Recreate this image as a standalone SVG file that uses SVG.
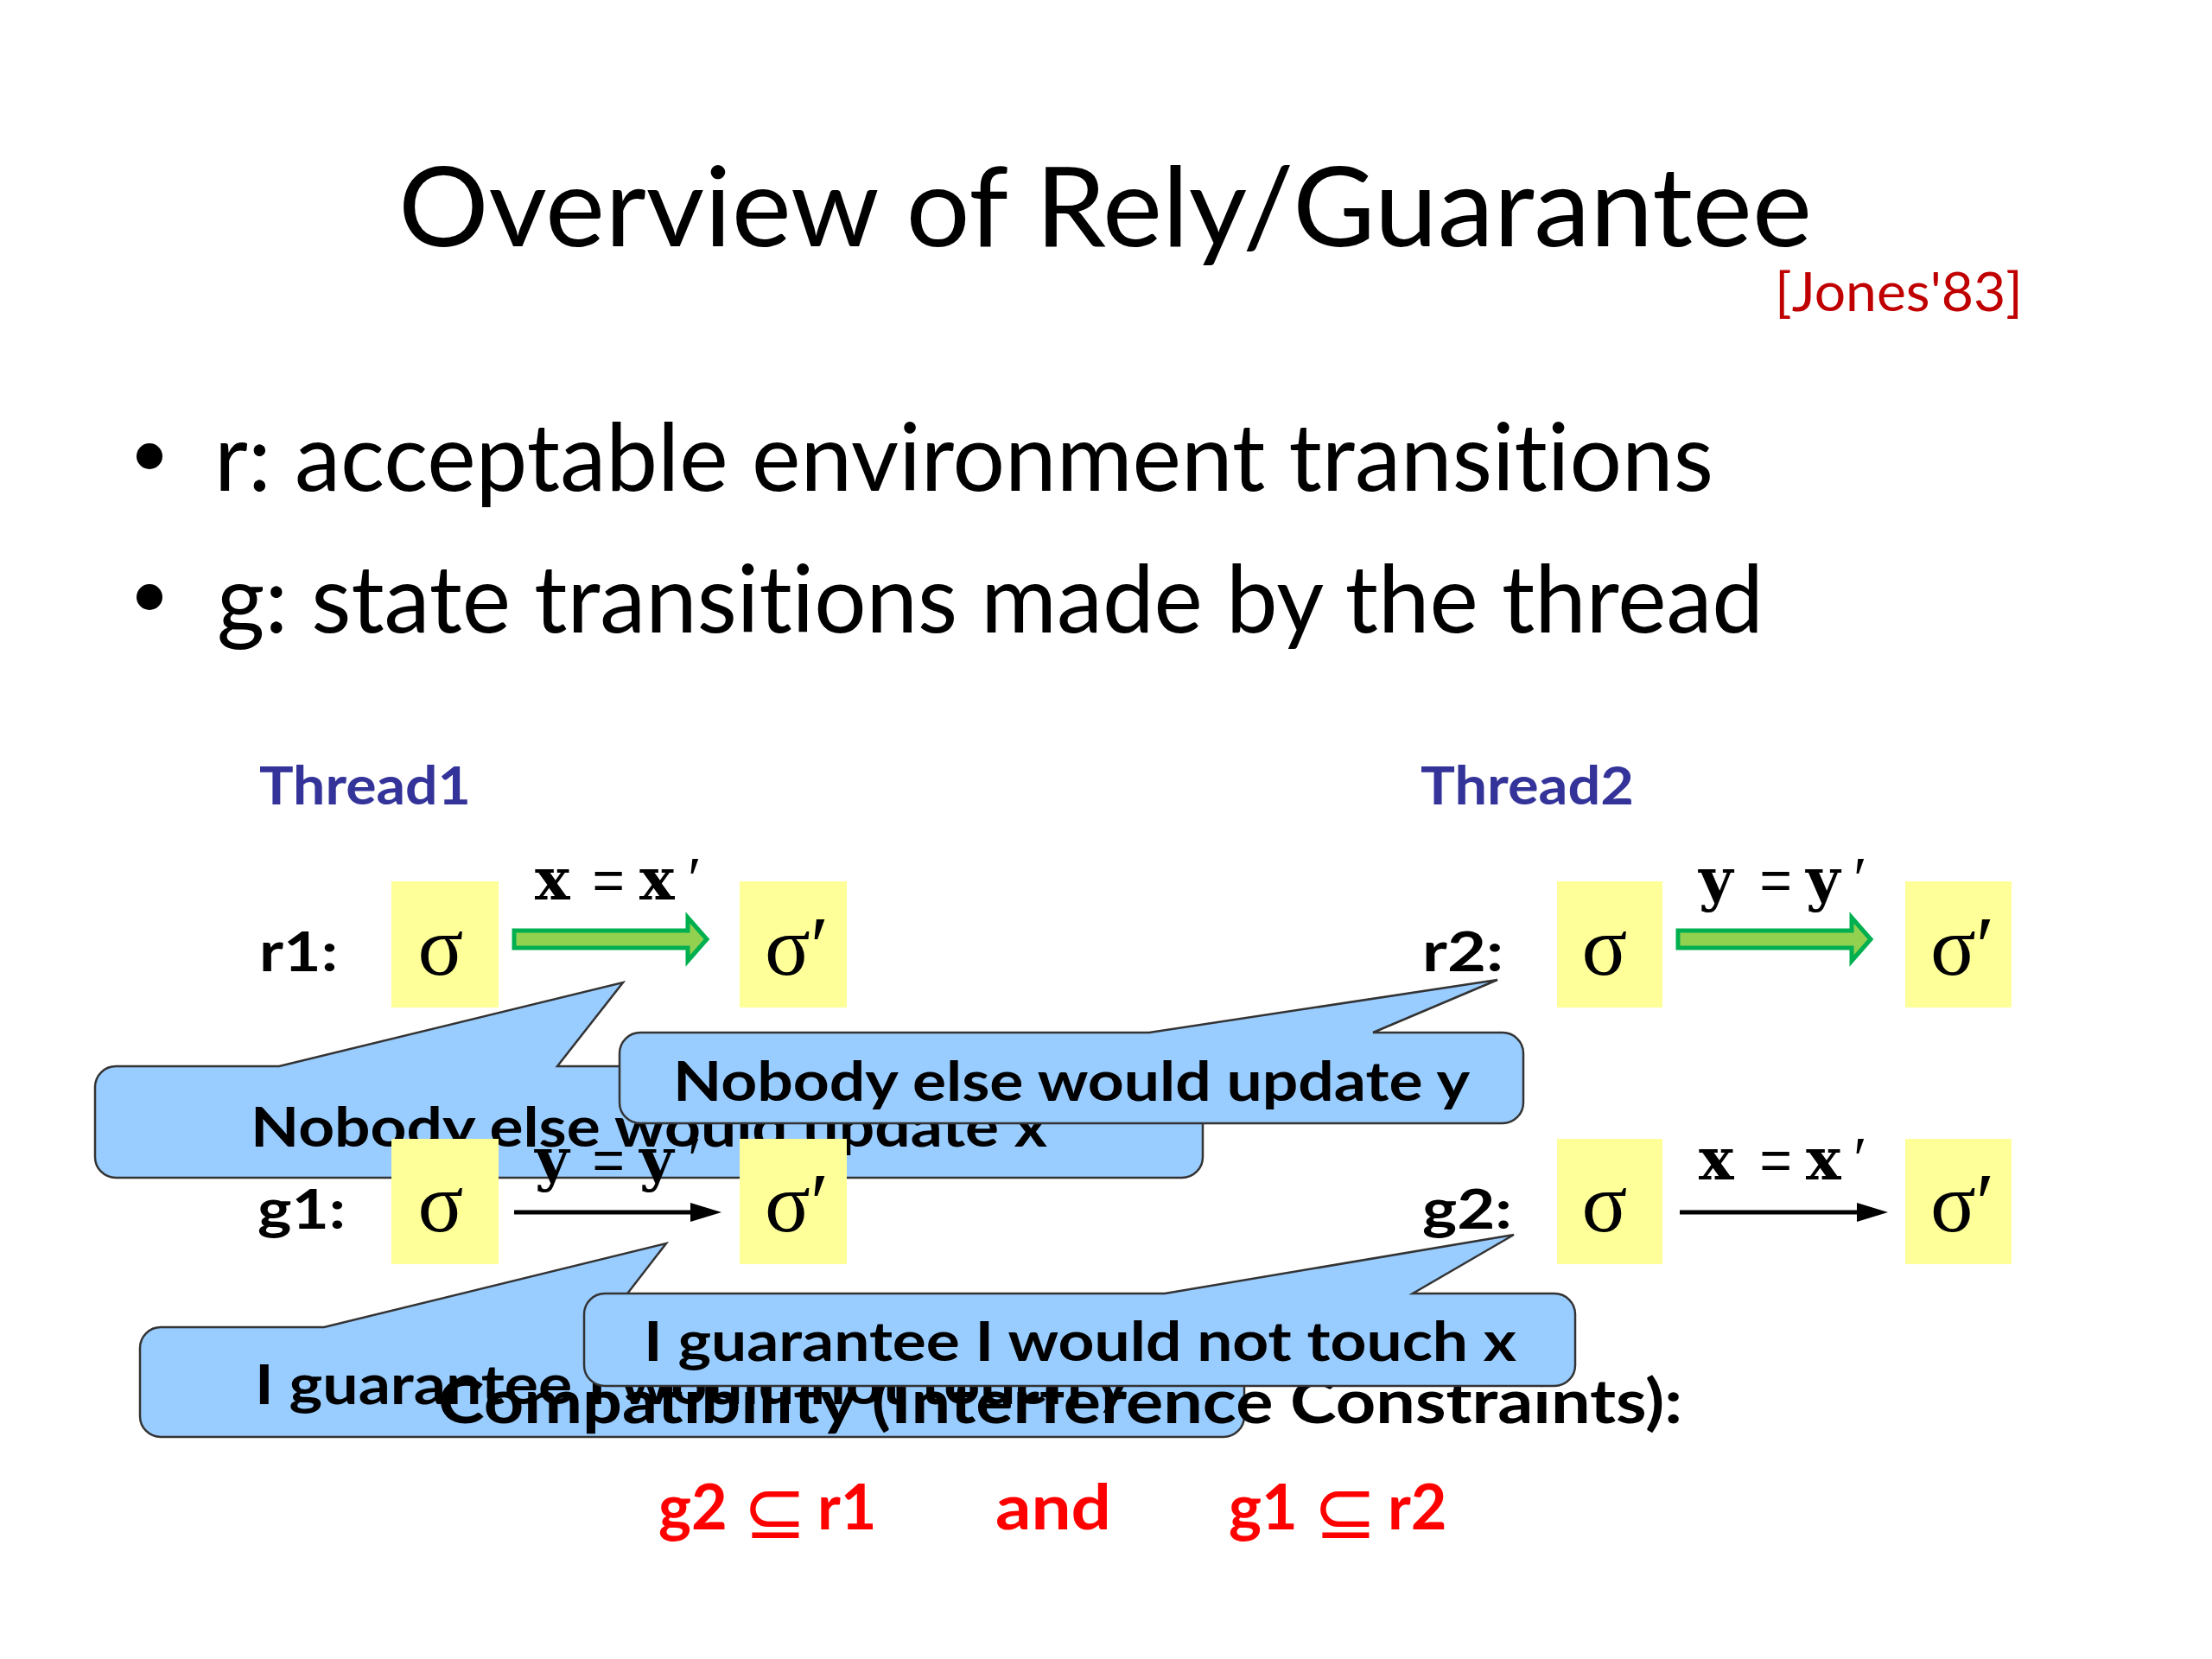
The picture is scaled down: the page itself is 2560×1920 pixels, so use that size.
<svg xmlns="http://www.w3.org/2000/svg" width="2560" height="1920" viewBox="0 0 2560 1920">
<defs>
<style>
text{font-variant-ligatures:none}
.sans{font-family:Lato,"Open Sans","Liberation Sans",sans-serif;font-variant-ligatures:none}
.title{font-size:128px;fill:#000}
.bullet{font-size:108px;fill:#000}
.cite{font-size:62px;fill:#C00000}
.thread{font-size:61px;font-weight:bold;fill:#333399}
.lbl{font-size:64px;font-weight:bold;fill:#000}
.box{fill:#FFFF99}
.sig{font-family:"Liberation Serif","DejaVu Serif",serif;font-size:98px;fill:#000}
.mono{font-family:"DejaVu Serif","Liberation Serif",serif;font-size:68px;font-weight:bold;fill:#000}
.eq{font-family:"Liberation Mono","DejaVu Sans Mono",monospace;font-size:64px;font-weight:normal;fill:#000}
.prime{font-family:"Liberation Serif","DejaVu Serif",serif;font-size:72px;fill:#000}
.callout{fill:#99CCFF;stroke:#333333;stroke-width:2.5;stroke-linejoin:miter}
.ctext{font-size:64px;font-weight:bold;fill:#000;text-anchor:middle}
.compat{font-size:71px;font-weight:bold;fill:#000}
.red{font-size:72px;font-weight:bold;fill:#FF0000}
.sub{font-family:"DejaVu Sans",sans-serif;font-size:88px;font-weight:normal;fill:#FF0000}
.green{fill:#92D050;stroke:#00B050;stroke-width:5;stroke-linejoin:miter}
.line{stroke:#000;stroke-width:5;fill:none}
</style>
<marker id="head" markerUnits="userSpaceOnUse" markerWidth="36" markerHeight="22" viewBox="0 0 36 22" refX="2" refY="11" orient="auto">
<path d="M0,0 L36,11 L0,22 z" fill="#000"/>
</marker>
</defs>
<rect width="2560" height="1920" fill="#FFFFFF"/>

<g id="title">
<text class="sans title" x="461" y="285" textLength="1636" lengthAdjust="spacingAndGlyphs">Overview of Rely/Guarantee</text>
</g>
<g id="citation">
<text class="sans cite" x="2054" y="360" textLength="287" lengthAdjust="spacingAndGlyphs">[Jones'83]</text>
</g>
<g id="bullets">
<circle cx="173" cy="528" r="15" fill="#000"/>
<text class="sans bullet" x="248" y="568" textLength="1735" lengthAdjust="spacingAndGlyphs">r: acceptable environment transitions</text>
<circle cx="173" cy="691" r="15" fill="#000"/>
<text class="sans bullet" x="251" y="732" textLength="1790" lengthAdjust="spacingAndGlyphs">g: state transitions made by the thread</text>
</g>
<g id="thread1-label">
<text class="sans thread" x="300" y="931" textLength="245" lengthAdjust="spacingAndGlyphs">Thread1</text>
</g>
<g id="thread2-label">
<text class="sans thread" x="1644" y="931" textLength="247" lengthAdjust="spacingAndGlyphs">Thread2</text>
</g>

<g id="r1-row">
<text class="sans lbl" x="300" y="1124" textLength="91" lengthAdjust="spacingAndGlyphs">r1:</text>
</g>
<g id="r1-sigma">
<rect class="box" x="453" y="1020" width="124" height="146"/>
<text class="sig" x="510" y="1128" text-anchor="middle">σ</text>
</g>
<g id="r1-sigma-prime">
<rect class="box" x="856" y="1020" width="124" height="146"/>
<text class="sig" x="885" y="1128">σ′</text>
</g>

<g id="r2-row">
<text class="sans lbl" x="1646" y="1124" textLength="94" lengthAdjust="spacingAndGlyphs">r2:</text>
</g>
<g id="r2-sigma">
<rect class="box" x="1802" y="1020" width="122" height="146"/>
<text class="sig" x="1857" y="1128" text-anchor="middle">σ</text>
</g>
<g id="r2-sigma-prime">
<rect class="box" x="2205" y="1020" width="123" height="146"/>
<text class="sig" x="2234" y="1128">σ′</text>
</g>

<g id="g2-row">
<text class="sans lbl" x="1646" y="1422" textLength="104" lengthAdjust="spacingAndGlyphs">g2:</text>
</g>
<g id="g2-sigma">
<rect class="box" x="1802" y="1318" width="122" height="145"/>
<text class="sig" x="1857" y="1425" text-anchor="middle">σ</text>
</g>
<g id="g2-sigma-prime">
<rect class="box" x="2205" y="1318" width="123" height="145"/>
<text class="sig" x="2234" y="1425">σ′</text>
</g>

<g id="callout-r1">
<path class="callout" d="M134,1234 H323 L721,1137 L645,1234 H1368 A24,24 0 0 1 1392,1258 V1339 A24,24 0 0 1 1368,1363 H134 A24,24 0 0 1 110,1339 V1258 A24,24 0 0 1 134,1234 Z"/>
<text class="sans ctext" x="751" y="1327" textLength="922" lengthAdjust="spacingAndGlyphs">Nobody else would update x</text>
</g>

<g id="g1-row">
<text class="sans lbl" x="298" y="1422" textLength="102" lengthAdjust="spacingAndGlyphs">g1:</text>
</g>
<g id="g1-sigma">
<rect class="box" x="453" y="1318" width="124" height="145"/>
<text class="sig" x="510" y="1425" text-anchor="middle">σ</text>
</g>
<g id="g1-sigma-prime">
<rect class="box" x="856" y="1318" width="124" height="145"/>
<text class="sig" x="885" y="1425">σ′</text>
</g>

<g id="connectors">
<polygon class="green" points="595,1077 796,1077 796,1062 818,1087 796,1112 796,1097 595,1097"/>
<polygon class="green" points="1942,1077 2143,1077 2143,1062 2165,1087 2143,1112 2143,1097 1942,1097"/>
<line class="line" x1="595" y1="1403" x2="801" y2="1403" marker-end="url(#head)"/>
<line class="line" x1="1944" y1="1403" x2="2151" y2="1403" marker-end="url(#head)"/>
</g>

<g id="edge-labels">
<text y="1041"><tspan class="mono" x="619">x</tspan><tspan class="eq" x="685">=</tspan><tspan class="mono" x="740">x</tspan><tspan class="prime" x="796">′</tspan></text>
<text y="1041"><tspan class="mono" x="1966">y</tspan><tspan class="eq" x="2036">=</tspan><tspan class="mono" x="2090">y</tspan><tspan class="prime" x="2145">′</tspan></text>
<text y="1365"><tspan class="mono" x="619">y</tspan><tspan class="eq" x="685">=</tspan><tspan class="mono" x="740">y</tspan><tspan class="prime" x="796">′</tspan></text>
<text y="1365"><tspan class="mono" x="1966">x</tspan><tspan class="eq" x="2036">=</tspan><tspan class="mono" x="2090">x</tspan><tspan class="prime" x="2145">′</tspan></text>
</g>

<g id="callout-r2">
<path class="callout" d="M741,1195 H1330 L1733,1134 L1589,1195 H1739 A24,24 0 0 1 1763,1219 V1276 A24,24 0 0 1 1739,1300 H741 A24,24 0 0 1 717,1276 V1219 A24,24 0 0 1 741,1195 Z"/>
<text class="sans ctext" x="1240" y="1274" textLength="922" lengthAdjust="spacingAndGlyphs">Nobody else would update y</text>
</g>

<g id="callout-g1">
<path class="callout" d="M186,1536 H375 L771,1439 L696,1536 H1416 A24,24 0 0 1 1440,1560 V1639 A24,24 0 0 1 1416,1663 H186 A24,24 0 0 1 162,1639 V1560 A24,24 0 0 1 186,1536 Z"/>
<text class="sans ctext" x="801" y="1625" textLength="1012" lengthAdjust="spacingAndGlyphs">I guarantee I would not touch y</text>
</g>

<g id="compatibility">
<text class="sans compat" x="507" y="1647" textLength="1440" lengthAdjust="spacingAndGlyphs">Compatibility (Interference Constraints):</text>
</g>

<g id="callout-g2">
<path class="callout" d="M700,1497 H1348 L1752,1429 L1635,1497 H1799 A24,24 0 0 1 1823,1521 V1580 A24,24 0 0 1 1799,1604 H700 A24,24 0 0 1 676,1580 V1521 A24,24 0 0 1 700,1497 Z"/>
<text class="sans ctext" x="1250" y="1575" textLength="1010" lengthAdjust="spacingAndGlyphs">I guarantee I would not touch x</text>
</g>

<g id="constraints">
<text y="1770"><tspan class="sans red" x="762">g2</tspan><tspan class="sub" x="860" y="1780">⊆</tspan><tspan class="sans red" x="946" y="1770">r1</tspan></text>
<text class="sans red" x="1152" y="1770" textLength="134" lengthAdjust="spacingAndGlyphs">and</text>
<text y="1770"><tspan class="sans red" x="1422">g1</tspan><tspan class="sub" x="1520" y="1780">⊆</tspan><tspan class="sans red" x="1606" y="1770">r2</tspan></text>
</g>
</svg>
